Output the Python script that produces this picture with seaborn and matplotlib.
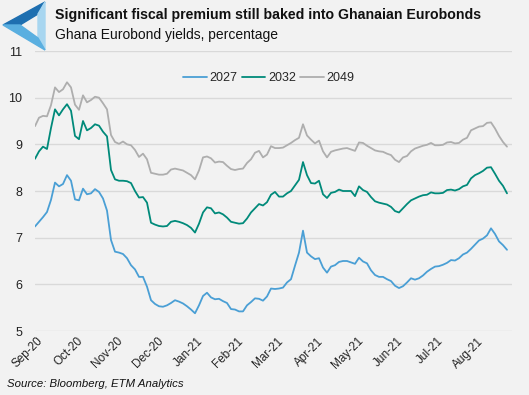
import numpy as np
import pandas as pd
import matplotlib
matplotlib.use("Agg")
import matplotlib.pyplot as plt
from matplotlib.patches import Polygon
from matplotlib.lines import Line2D
import seaborn as sns

# ---------------- data (sampled roughly every two business days) ----------------
y2027 = [7.24, 7.34, 7.44, 7.55, 7.81, 8.18, 8.10, 8.15, 8.34, 8.22,
         7.82, 7.80, 8.05, 7.93, 7.95, 8.04, 7.98, 7.84, 7.58, 6.95,
         6.70, 6.68, 6.65, 6.56, 6.41, 6.32, 6.16, 6.16, 5.95, 5.66,
         5.58, 5.53, 5.52, 5.55, 5.60, 5.66, 5.63, 5.59, 5.53, 5.46,
         5.38, 5.55, 5.75, 5.82, 5.72, 5.68, 5.69, 5.64, 5.60, 5.47,
         5.46, 5.42, 5.42, 5.55, 5.62, 5.70, 5.69, 5.65, 5.74, 5.91,
         5.90, 5.91, 5.93, 6.04, 6.11, 6.40, 6.68, 7.15, 6.68, 6.60,
         6.54, 6.56, 6.36, 6.25, 6.38, 6.41, 6.48, 6.50, 6.50, 6.47,
         6.44, 6.57, 6.49, 6.45, 6.30, 6.20, 6.16, 6.16, 6.11, 6.07,
         5.97, 5.92, 5.96, 6.04, 6.13, 6.10, 6.13, 6.19, 6.27, 6.33,
         6.38, 6.39, 6.42, 6.46, 6.52, 6.51, 6.56, 6.64, 6.68, 6.76,
         6.85, 6.94, 6.98, 7.05, 7.20, 7.08, 6.92, 6.84, 6.74]

y2032 = [8.69, 8.85, 8.95, 8.90, 9.35, 9.75, 9.62, 9.75, 9.86, 9.72,
         9.18, 9.11, 9.50, 9.30, 9.35, 9.43, 9.40, 9.27, 9.17, 8.45,
         8.25, 8.22, 8.22, 8.21, 8.17, 8.00, 7.86, 7.87, 7.75, 7.32,
         7.28, 7.25, 7.24, 7.25, 7.34, 7.36, 7.34, 7.31, 7.27, 7.21,
         7.11, 7.30, 7.54, 7.65, 7.63, 7.52, 7.54, 7.50, 7.43, 7.34,
         7.32, 7.30, 7.31, 7.41, 7.54, 7.63, 7.72, 7.69, 7.76, 7.92,
         7.98, 7.88, 7.88, 7.95, 8.00, 8.12, 8.24, 8.62, 8.34, 8.17,
         8.16, 8.22, 7.93, 7.85, 7.96, 7.98, 8.03, 8.00, 8.00, 8.00,
         7.89, 8.10, 8.02, 7.98, 7.87, 7.78, 7.75, 7.73, 7.71, 7.66,
         7.57, 7.54, 7.63, 7.72, 7.80, 7.84, 7.88, 7.91, 7.92, 7.97,
         7.95, 7.95, 7.96, 8.02, 8.03, 8.01, 8.04, 8.10, 8.13, 8.27,
         8.34, 8.38, 8.43, 8.50, 8.51, 8.37, 8.22, 8.11, 7.95]

y2049 = [9.39, 9.57, 9.61, 9.60, 9.84, 10.22, 10.12, 10.18, 10.33, 10.22,
         9.85, 9.74, 10.05, 9.90, 9.95, 10.02, 10.00, 9.88, 9.75, 9.20,
         9.05, 9.01, 9.06, 9.00, 8.98, 8.88, 8.73, 8.80, 8.68, 8.39,
         8.37, 8.35, 8.35, 8.37, 8.46, 8.48, 8.46, 8.44, 8.39, 8.34,
         8.25, 8.44, 8.72, 8.74, 8.70, 8.61, 8.63, 8.62, 8.54, 8.47,
         8.45, 8.47, 8.48, 8.60, 8.68, 8.82, 8.86, 8.72, 8.78, 8.96,
         8.92, 8.92, 8.93, 8.98, 9.03, 9.09, 9.14, 9.43, 9.19, 9.10,
         9.02, 9.08, 8.85, 8.72, 8.84, 8.87, 8.89, 8.91, 8.92, 8.89,
         8.86, 9.04, 9.03, 8.97, 8.92, 8.87, 8.85, 8.84, 8.80, 8.77,
         8.67, 8.62, 8.72, 8.75, 8.85, 8.91, 8.94, 8.97, 8.99, 9.03,
         8.98, 8.98, 8.99, 9.04, 9.05, 9.02, 9.03, 9.10, 9.14, 9.30,
         9.34, 9.38, 9.39, 9.46, 9.47, 9.34, 9.18, 9.05, 8.95]

series_names = ["2027", "2032", "2049"]
month_labels = ["Sep-20", "Oct-20", "Nov-20", "Dec-20", "Jan-21", "Feb-21",
                "Mar-21", "Apr-21", "May-21", "Jun-21", "Jul-21", "Aug-21"]
y_ticks = [5, 6, 7, 8, 9, 10, 11]

title = "Significant fiscal premium still baked into Ghanaian Eurobonds"
subtitle = "Ghana Eurobond yields, percentage"
source = "Source: Bloomberg, ETM Analytics"

# ---------------- build frame ----------------
n = len(y2027)
idx = np.arange(n)
df = pd.concat([
    pd.DataFrame({"obs": idx, "yield": y2027, "bond": "2027"}),
    pd.DataFrame({"obs": idx, "yield": y2032, "bond": "2032"}),
    pd.DataFrame({"obs": idx, "yield": y2049, "bond": "2049"}),
], ignore_index=True)

BG = "#F2F2F2"
palette = {"2027": "#4A9FD5", "2032": "#008A7A", "2049": "#AEAEAE"}

sns.set_style("white", {"axes.facecolor": BG, "figure.facecolor": BG})
plt.rcParams["font.family"] = ["Liberation Sans", "DejaVu Sans"]

W, H = 529, 395
fig = plt.figure(figsize=(W / 100, H / 100), dpi=100)
fig.patch.set_facecolor(BG)
ax = fig.add_axes([35 / W, 1 - 331 / H, 477 / W, 280 / H])
ax.set_facecolor(BG)

sns.lineplot(data=df, x="obs", y="yield", hue="bond", palette=palette,
             hue_order=series_names, linewidth=1.3, ax=ax, legend=False)

ax.set_xlim(0, 119.25)
ax.set_ylim(5, 11)
ax.set_yticks(y_ticks)
ax.set_yticklabels([str(v) for v in y_ticks])
ax.grid(axis="y", color="#D9D9D9", linewidth=1.0)
ax.set_axisbelow(True)
for s in ax.spines.values():
    s.set_visible(False)

tick_pos = [0.5 + 10 * k for k in range(len(month_labels))]
ax.set_xticks(tick_pos)
ax.set_xticklabels(month_labels, rotation=45, ha="right", va="top",
                   rotation_mode="anchor", fontsize=8.5, color="#222222")
ax.tick_params(axis="x", length=0, pad=3)
ax.tick_params(axis="y", length=0, pad=9, labelsize=9, labelcolor="#222222")
ax.set_xlabel("")
ax.set_ylabel("")

# legend
handles = [Line2D([0], [0], color=palette[s], lw=1.3) for s in series_names]
ax.legend(handles, series_names, loc="upper center", bbox_to_anchor=(0.49, 0.955),
          ncol=3, frameon=False, fontsize=9, handlelength=1.9,
          handletextpad=0.2, columnspacing=0.35, borderpad=0.2)

# titles
fig.text(55 / W, 1 - 15 / H, title, fontsize=10.2, fontweight="bold",
         va="center", ha="left", color="#111111")
fig.text(55 / W, 1 - 35 / H, subtitle, fontsize=10, va="center", ha="left",
         color="#111111")
fig.text(7 / W, 1 - 384 / H, source, fontsize=8.2, style="italic",
         va="center", ha="left", color="#111111")

# logo (decorative)
def P(pts):
    return [(x / W, 1 - y / H) for x, y in pts]

oL, oT, oB = (3, 25), (45, 2), (45, 50)
iL, iT, iB = (20, 25), (38, 14), (38, 38)
fig.patches.append(Polygon(P([oL, oT, iT, iL]), closed=True, color="#1E6FB0",
                           transform=fig.transFigure, figure=fig))
fig.patches.append(Polygon(P([oT, oB, iB, iT]), closed=True, color="#A8D6F0",
                           transform=fig.transFigure, figure=fig))
fig.patches.append(Polygon(P([oB, oL, iL, iB]), closed=True, color="#5AAFE0",
                           transform=fig.transFigure, figure=fig))

fig.savefig("out.png", dpi=100, facecolor=BG)
